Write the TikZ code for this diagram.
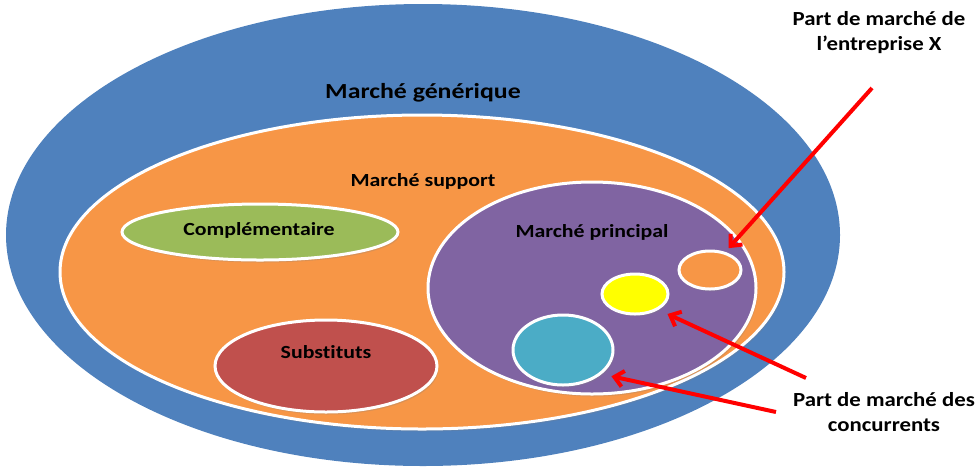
\documentclass[tikz,border=0pt]{standalone}
\usepackage{fontspec}
\setmainfont[Ligatures=NoCommon]{Carlito}
\newfontfamily\zonefont[Ligatures=NoCommon,FakeStretch=1.18]{Carlito}
\newfontfamily\genfont[Ligatures=NoCommon,FakeStretch=1.2]{Carlito}
\newfontfamily\partfont[Ligatures=NoCommon,FakeStretch=1.14]{Carlito}
\usetikzlibrary{shapes.geometric,arrows.meta,shadows}
\definecolor{bleu}{HTML}{4F81BD}
\definecolor{orangem}{HTML}{F79646}
\definecolor{vert}{HTML}{9BBB59}
\definecolor{rouge}{HTML}{C0504D}
\definecolor{violet}{HTML}{8064A2}
\definecolor{turquoise}{HTML}{4BACC6}
\definecolor{jaune}{HTML}{FFFF00}
\begin{document}
\begin{tikzpicture}
[x=1pt,y=-1pt,
  zonedecorate/.style={shape=ellipse,inner sep=0pt,draw=white,line width=3pt,
    drop shadow={opacity=0.25,shadow xshift=1.5pt,shadow yshift=-2.5pt}},%
  textdecorate/.style={font=\zonefont\bfseries\fontsize{18.5}{20}\selectfont,inner sep=0pt,align=center},%
  partdecorate/.style={font=\partfont\bfseries\fontsize{20}{25}\selectfont,inner sep=0pt,align=center},%
  flechedecorate/.style={draw=red,line width=4pt,-{Straight Barb[length=9pt,width=16pt]}}]
\useasboundingbox (0,0) rectangle (979,467);
%% markets
\node (gen) at (423,235) [shape=ellipse,inner sep=0pt,fill=bleu,minimum width=834pt,minimum height=462pt] {};
\foreach \nodename/\x/\y/\w/\h/\col in {sup/422/272/724/314/orangem, compl/260/232/276/56/vert,
  subst/326/366/222/92/rouge, princ/592/288/328/212/violet, entx/710/270/62/38/orangem,
  conc1/635/294/66/40/jaune, conc2/563/350/100/70/turquoise} {
  \node (\nodename) at (\x,\y) [zonedecorate,fill=\col,minimum width=\w pt,minimum height=\h pt] {};
}
%% labels
\node (tgen) at (423,93) [textdecorate,font=\genfont\bfseries\fontsize{21.5}{24}\selectfont] {Marché générique};
\node (tsup) at (423,181) [textdecorate] {Marché support};
\node (tcompl) at (259,230) [textdecorate] {Complémentaire};
\node (tsubst) at (326,352) [textdecorate] {Substituts};
\node (tprinc) at (592,232) [textdecorate] {Marché principal};
\node (tentx) at (879,33) [partdecorate] {Part de marché de\\l’entreprise X};
\node (tconc) at (884,412) [partdecorate] {Part de marché des\\concurrents};
%% arrows
\coordinate (d1) at (872,88);
\coordinate (d2) at (806,378);
\coordinate (d3) at (776,412);
\draw[flechedecorate,shorten >=5pt] (d1) -- (entx.50);
\draw[flechedecorate,shorten >=10pt] (d2) -- (conc1.-34);
\draw[flechedecorate,shorten >=10pt] (d3) -- (conc2.-32);
\end{tikzpicture}
\end{document}
